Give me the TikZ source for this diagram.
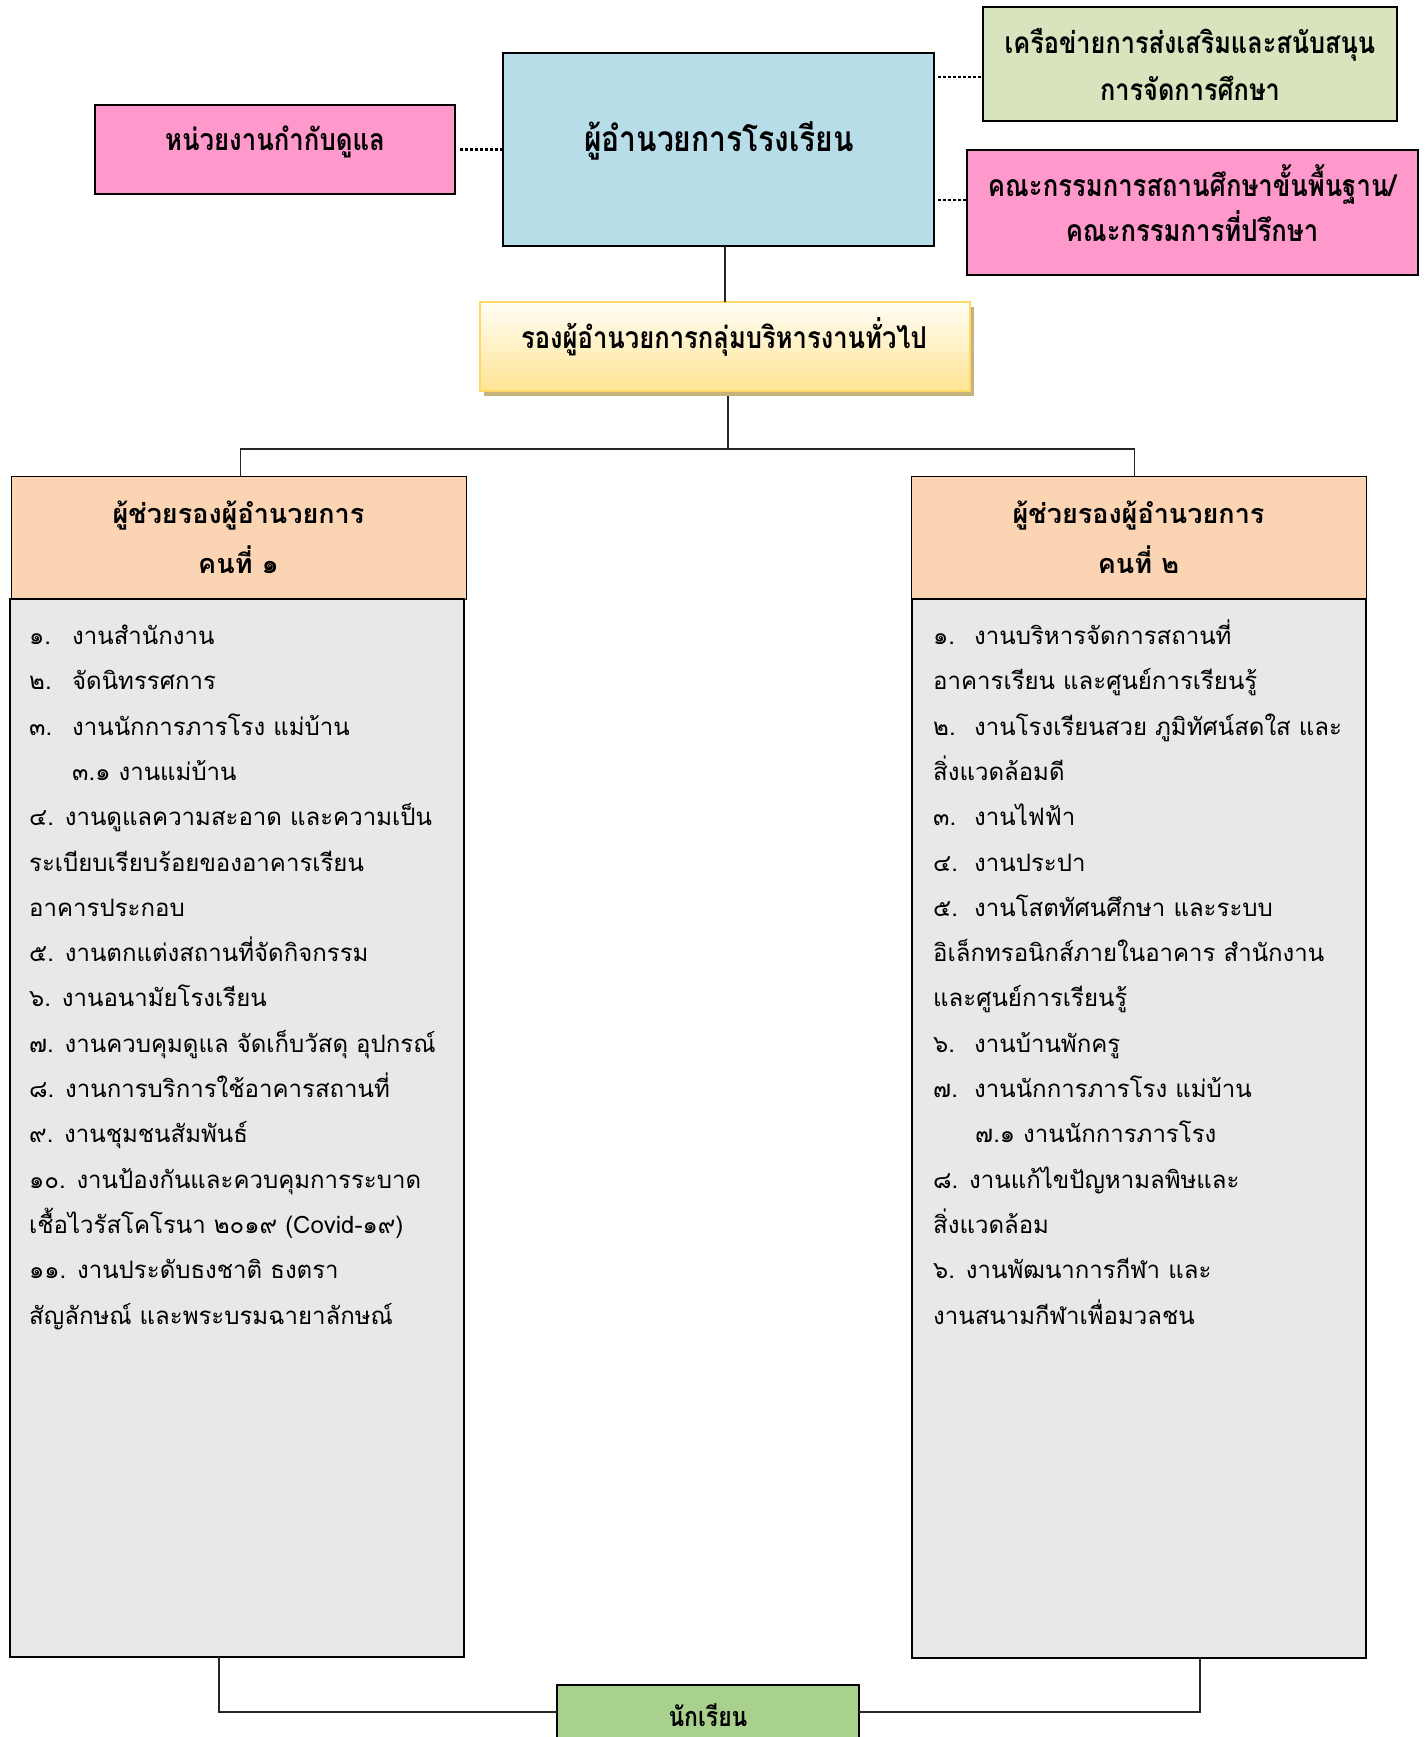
\documentclass[tikz,border=0pt]{standalone}
\usepackage{fontspec}
\newfontfamily\thai[Script=Thai]{Loma}
\newfontfamily\thaicond[Script=Thai,FakeStretch=0.85]{Loma}
\usetikzlibrary{shadows}
\definecolor{mainblue}{HTML}{B7DDE8}
\definecolor{pinkbox}{HTML}{FF99CC}
\definecolor{greenbox}{HTML}{D7E4BD}
\definecolor{peach}{HTML}{FBD4B4}
\definecolor{graybody}{HTML}{E8E8E8}
\definecolor{studentgreen}{HTML}{A9D18E}
\definecolor{ytop}{HTML}{FFFDF6}
\definecolor{ybot}{HTML}{FFE594}
\definecolor{yborder}{HTML}{FFD966}
\definecolor{yshadow}{HTML}{C6B27C}
\tikzset{
  box/.style={draw=black, inner sep=0pt, outer sep=0pt},
  btext/.style={font=\thaicond\bfseries\fontsize{#1}{#1}\selectfont, inner sep=0pt, align=center},
  htext/.style={font=\thai\bfseries\fontsize{#1}{#1}\selectfont, inner sep=0pt, align=center},
  listtext/.style={font=\thai\fontsize{24}{45}\selectfont, inner sep=0pt, anchor=base west},
  dotline/.style={line width=2.6pt, dash pattern=on 2.6pt off 2.4pt},
  conn/.style={line width=1.3pt, draw=black!85},
}
\begin{document}
\begin{tikzpicture}[x=1pt, y=-1pt]
\path[use as bounding box, fill=white] (0,0) rectangle (1424,1737);

% top boxes
\node[box, line width=1.2pt, fill=mainblue, minimum width=431pt, minimum height=193pt] (main) at (718.5,149.5) {};
\node[btext=35.3] (maintext) at (719,141) {ผู้อำนวยการโรงเรียน};

\node[box, line width=2.2pt, fill=pinkbox, minimum width=360pt, minimum height=89pt] (pinkL) at (275,149.5) {};
\node[btext=30.3] (pinkLtext) at (275,142) {หน่วยงานกำกับดูแล};

\node[box, line width=1.5pt, fill=greenbox, minimum width=414pt, minimum height=114pt] (green) at (1190,64) {};
\node[btext=29.8] (greentext1) at (1190,45) {เครือข่ายการส่งเสริมและสนับสนุน};
\node[btext=29.8] (greentext2) at (1190,88) {การจัดการศึกษา};

\node[box, line width=2.2pt, fill=pinkbox, minimum width=451pt, minimum height=125pt] (pinkR) at (1192.5,212.5) {};
\node[btext=30.2] (pinkRtext1) at (1192,184) {คณะกรรมการสถานศึกษาขั้นพื้นฐาน/};
\node[btext=30.2] (pinkRtext2) at (1192,226) {คณะกรรมการที่ปรึกษา};

% yellow
\node[box, draw=yborder, line width=2pt, top color=ytop, bottom color=ybot,
      minimum width=490pt, minimum height=89pt,
      general shadow={fill=yshadow, shadow xshift=4pt, shadow yshift=-5pt}] (yellow) at (725,346) {};
\node[btext=30.1] (yellowtext) at (724,337) {รองผู้อำนวยการกลุ่มบริหารงานทั่วไป};

% dotted links
\coordinate (gd) at ([yshift=-13pt]green.west);
\coordinate (pd) at ([yshift=12.5pt]pinkR.west);
\draw[dotline] ([xshift=5pt]pinkL.east) -- (main.west |- pinkL.east);
\draw[dotline] ([xshift=4pt]main.east |- gd) -- (gd);
\draw[dotline] ([xshift=4pt]main.east |- pd) -- (pd);

% headers and bodies
\node[box, line width=1pt, fill=peach, minimum width=455pt, minimum height=123pt] (h1) at (238.5,537.5) {};
\node[htext=27] (h1t1) at (238.5,516) {ผู้ช่วยรองผู้อำนวยการ};
\node[htext=27] (h1t2) at (238.5,560) {คนที่ ๑};
\node[box, line width=1.3pt, fill=graybody, minimum width=454pt, minimum height=1058pt] (b1) at (237,1128) {};

\node[box, line width=1pt, fill=peach, minimum width=455pt, minimum height=123pt] (h2) at (1138.5,537.5) {};
\node[htext=27] (h2t1) at (1138.5,516) {ผู้ช่วยรองผู้อำนวยการ};
\node[htext=27] (h2t2) at (1138.5,560) {คนที่ ๒};
\node[box, line width=1.3pt, fill=graybody, minimum width=454pt, minimum height=1059pt] (b2) at (1139,1128.5) {};

% connectors
\coordinate (bus) at (727,449);
\draw[conn] (yellow.north) -- (yellow.north |- main.south);
\draw[conn] ([xshift=3pt]yellow.south) ++(0,5) -- ([xshift=3pt]yellow.south |- bus);
\draw[conn] ([xshift=2pt]h1.north) |- (bus) -| ([xshift=-4pt]h2.north);

% left list
\foreach \t [count=\i from 0] in {
  {\makebox[43pt][l]{๑.}งานสำนักงาน},
  {\makebox[43pt][l]{๒.}จัดนิทรรศการ},
  {\makebox[43pt][l]{๓.}งานนักการภารโรง แม่บ้าน},
  {\hspace*{43pt}๓.๑ งานแม่บ้าน},
  {๔. งานดูแลความสะอาด และความเป็น},
  {ระเบียบเรียบร้อยของอาคารเรียน},
  {อาคารประกอบ},
  {๕. งานตกแต่งสถานที่จัดกิจกรรม},
  {๖. งานอนามัยโรงเรียน},
  {๗. งานควบคุมดูแล จัดเก็บวัสดุ อุปกรณ์},
  {๘. งานการบริการใช้อาคารสถานที่},
  {๙. งานชุมชนสัมพันธ์},
  {๑๐. งานป้องกันและควบคุมการระบาด},
  {เชื้อไวรัสโคโรนา ๒๐๑๙ (Covid-๑๙)},
  {๑๑. งานประดับธงชาติ ธงตรา},
  {สัญลักษณ์ และพระบรมฉายาลักษณ์}}
  \node[listtext] (L\i) at (29,644.5+45.3*\i) {\t};

% right list
\foreach \t [count=\i from 0] in {
  {\makebox[41pt][l]{๑.}งานบริหารจัดการสถานที่},
  {อาคารเรียน และศูนย์การเรียนรู้},
  {\makebox[41pt][l]{๒.}งานโรงเรียนสวย ภูมิทัศน์สดใส และ},
  {สิ่งแวดล้อมดี},
  {\makebox[41pt][l]{๓.}งานไฟฟ้า},
  {\makebox[41pt][l]{๔.}งานประปา},
  {\makebox[41pt][l]{๕.}งานโสตทัศนศึกษา และระบบ},
  {อิเล็กทรอนิกส์ภายในอาคาร สำนักงาน},
  {และศูนย์การเรียนรู้},
  {\makebox[41pt][l]{๖.}งานบ้านพักครู},
  {\makebox[41pt][l]{๗.}งานนักการภารโรง แม่บ้าน},
  {\hspace*{42pt}๗.๑ งานนักการภารโรง},
  {๘. งานแก้ไขปัญหามลพิษและ},
  {สิ่งแวดล้อม},
  {๖. งานพัฒนาการกีฬา และ},
  {งานสนามกีฬาเพื่อมวลชน}}
  \node[listtext] (R\i) at (933,644.5+45.3*\i) {\t};

% student
\node[box, line width=1.5pt, fill=studentgreen, minimum width=302pt, minimum height=80pt] (stud) at (708,1725) {};
\node[btext=27] (studtext) at (708,1715) {นักเรียน};
\draw[conn] ([xshift=-18pt]b1.south) |- ([yshift=13pt]stud.west);
\draw[conn] ([xshift=61pt]b2.south) |- ([yshift=13pt]stud.east);
\end{tikzpicture}
\end{document}
